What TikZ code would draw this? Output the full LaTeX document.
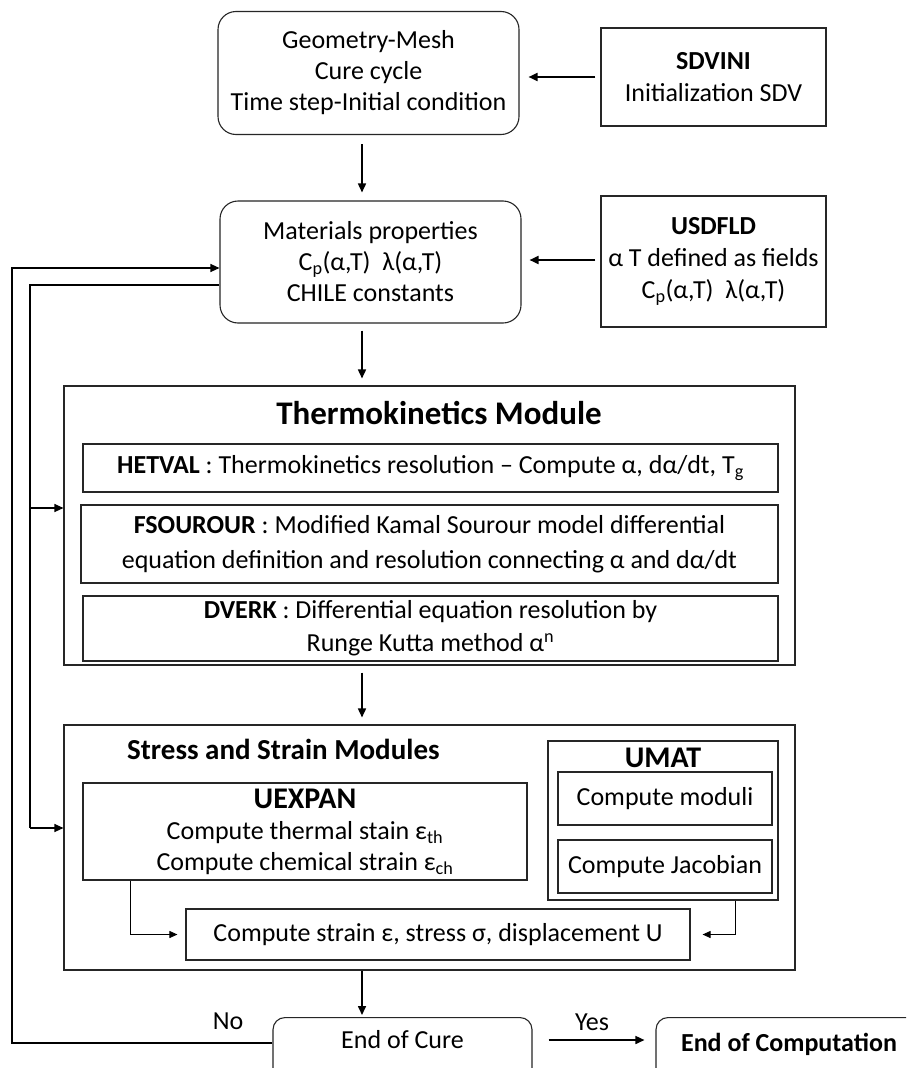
\documentclass[tikz,border=0pt]{standalone}
\usepackage{fontspec}
\setmainfont{Carlito}
\usetikzlibrary{arrows.meta,calc}
\begin{document}
\begin{tikzpicture}[x=1pt,y=-1pt,
  base/.style={draw=black!85, line width=1.1pt, align=center, inner sep=0pt, font=\fontsize{26}{31}\selectfont},
  rbox/.style={base, rounded corners=18pt},
  sbox/.style={base},
  arr/.style={-{Triangle[length=9pt,width=8pt]}, line width=1.6pt},
  thinarr/.style={-{Triangle[length=8pt,width=7pt]}, line width=0.9pt},
  lbl/.style={font=\fontsize{26}{30}\selectfont, inner sep=0pt}
]
\clip (0,0) rectangle (906,1068);
\fill[white] (0,0) rectangle (906,1068);

% top row
\node[rbox, minimum width=301pt, minimum height=123pt] (top) at (368.5,73)
  {Geometry-Mesh\\Cure cycle\\Time step-Initial condition};
\node[sbox, minimum width=225pt, minimum height=98pt, font=\fontsize{26}{32}\selectfont] (sdvini) at (713.5,77)
  {\textbf{SDVINI}\\Initialization SDV};

% materials row
\node[rbox, minimum width=301pt, minimum height=122pt] (mat) at (370.5,262)
  {Materials properties\\C\textsubscript{p}(α,T)~ λ(α,T)\\CHILE constants};
\node[sbox, minimum width=225pt, minimum height=131pt, font=\fontsize{26}{32}\selectfont] (usdfld) at (713.5,261.5)
  {\textbf{USDFLD}\\α T defined as fields\\C\textsubscript{p}(α,T)~ λ(α,T)};

% thermokinetics module
\node[sbox, minimum width=731pt, minimum height=279pt] (thermo) at (429.5,525.5) {};
\node[lbl, font=\fontsize{33}{36}\selectfont\bfseries] (ttitle) at (439,413) {Thermokinetics Module};
\node[sbox, minimum width=695pt, minimum height=48pt] (hetval) at (430.5,468)
  {\textbf{HETVAL} : Thermokinetics resolution – Compute α, dα/dt, T\textsubscript{g}};
\node[sbox, minimum width=697pt, minimum height=78pt, font=\fontsize{26}{35}\selectfont] (fsour) at (429.5,544)
  {\textbf{FSOUROUR} : Modified Kamal Sourour model differential\\equation definition and resolution connecting α and dα/dt};
\node[sbox, minimum width=695pt, minimum height=65pt, font=\fontsize{26}{33}\selectfont] (dverk) at (430.5,628.5)
  {\textbf{DVERK} : Differential equation resolution by\\Runge Kutta method α\textsuperscript{n}};

% stress and strain modules
\node[sbox, minimum width=731pt, minimum height=245pt] (stress) at (429.5,847.5) {};
\node[lbl, anchor=west, font=\fontsize{29}{32}\selectfont\bfseries] (stitle) at (127,749) {Stress and Strain Modules};
\node[sbox, minimum width=230pt, minimum height=159pt] (umat) at (663,820.5) {};
\node[lbl, font=\fontsize{30}{32}\selectfont\bfseries] (umatt) at (663,758) {UMAT};
\node[sbox, minimum width=214pt, minimum height=53pt] (moduli) at (665,798.5) {Compute moduli};
\node[sbox, minimum width=214pt, minimum height=53pt] (jacob) at (665,866.5) {Compute Jacobian};
\node[sbox, minimum width=444pt, minimum height=97pt, font=\fontsize{26}{31}\selectfont] (uexpan) at (305,831.5)
  {{\fontsize{30}{30}\selectfont\textbf{UEXPAN}}\\Compute thermal stain ε\textsubscript{th}\\Compute chemical strain ε\textsubscript{ch}};
\node[sbox, minimum width=504pt, minimum height=51pt] (strain) at (438,934.5)
  {Compute strain ε, stress σ, displacement U};

% bottom row
\node[rbox, rounded corners=12pt, anchor=north, minimum width=259pt, text height=31pt, text depth=40pt] (cure) at (402.5,1017) {End of Cure};
\node[rbox, rounded corners=12pt, anchor=north, minimum width=266pt, text height=34pt, text depth=40pt] (endc) at (789,1017) {\textbf{End of Computation}};
\node[lbl] (no) at (228,1021) {No};
\node[lbl] (yes) at (592,1022) {Yes};

% coordinates
\coordinate (col) at (362,0);
\coordinate (fb) at (12,600);
\coordinate (busT) at (30,508);
\coordinate (busS) at (30,828);
\coordinate (yarr) at (0,1040);
\coordinate (ysd) at (0,77);
\coordinate (yus) at (0,260);

% main vertical arrows
\draw[arr, shorten <=9pt, shorten >=8pt] (top.south -| col) -- (mat.north -| col);
\draw[arr, shorten <=7pt, shorten >=7pt] (mat.south -| col) -- (thermo.north -| col);
\draw[arr, shorten <=7pt, shorten >=7pt] (thermo.south -| col) -- (stress.north -| col);
\draw[arr, shorten <=0pt, shorten >=2pt] (stress.south -| col) -- (cure.north -| col);

% side arrows
\draw[arr, line width=1.8pt, shorten <=5pt, shorten >=9pt] (sdvini.west |- ysd) -- (top.east |- ysd);
\draw[arr, line width=1.8pt, shorten <=5pt, shorten >=8pt] (usdfld.west |- yus) -- (mat.east |- yus);

% feedback loop
\draw[arr, line width=1.1pt] ([yshift=-26pt]cure.north west) -| (fb) |- ([yshift=-6pt]mat.west);
\draw[line width=1.1pt] ([yshift=-23pt]mat.west) -| (busS);
\draw[arr, line width=1.1pt] (busT) -- (busT -| thermo.west);
\draw[arr, line width=1.1pt] (busS) -- (busS -| stress.west);

% stress internal connectors
\draw[thinarr, shorten >=8pt] (uexpan.south -| 130,0) |- (strain.west);
\draw[thinarr, shorten >=12pt] (umat.south -| 735,0) |- (strain.east);

% yes arrow
\draw[arr, shorten <=16pt, shorten >=11pt] (cure.east |- yarr) -- (endc.west |- yarr);
\end{tikzpicture}
\end{document}
